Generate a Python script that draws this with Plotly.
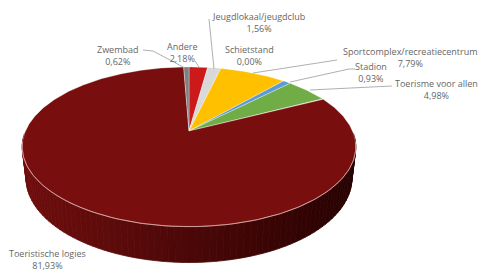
import numpy as np
import plotly.graph_objects as go

# ---- data (alphabetical order, as in the source sheet) ----
categories = ["Andere", "Jeugdlokaal/jeugdclub", "Schietstand",
              "Sportcomplex/recreatiecentrum", "Stadion", "Toerisme voor allen",
              "Toeristische logies", "Zwembad"]
values = [2.18, 1.56, 0.00, 7.79, 0.93, 4.98, 81.93, 0.62]
colors = ["#CC1A1A", "#D9D9D9", "#A5A5A5", "#FFC000", "#5B9BD5", "#70AD47",
          "#790E0E", "#7F7F7F"]

# ---- geometry of the 3D pie (perspective projection) ----
W, H = 480, 273
CX, CY, SCALE = 189, 131, 731
TH = np.radians(28)
S, C = np.sin(TH), np.cos(TH)
D = 4.47
HT = 0.22


def proj(phi_deg, r=1.0, Y=0.0):
    phi = np.radians(np.asarray(phi_deg, dtype=float))
    X = r * np.sin(phi)
    Z = r * np.cos(phi)
    depth = D + Z * C - Y * S
    u = X / depth
    v = (Z * S + Y * C) / depth
    return CX + SCALE * u, CY - SCALE * v


fig = go.Figure()

# side of the disc (front half), gradient strips
L = np.array([112, 14, 14])
R = np.array([40, 2, 2])
edges = np.linspace(92, 268, 89)
for a0, a1 in zip(edges[:-1], edges[1:]):
    xt, yt = proj([a0, a1])
    xb, yb = proj([a1, a0], Y=-HT)
    xs = list(xt) + list(xb) + [xt[0]]
    ys = list(yt) + list(yb) + [yt[0]]
    f = (np.mean(xt) - 22) / (356 - 22)
    f = min(max(f, 0), 1)
    col = L * (1 - f) + R * f
    cs = "rgb(%d,%d,%d)" % tuple(col)
    fig.add_trace(go.Scatter(x=xs, y=ys, mode="lines", fill="toself",
                             fillcolor=cs, line=dict(color=cs, width=0.8),
                             hoverinfo="skip", showlegend=False))

# top face slices
total = sum(values)
start = 0.0
for cat, val, col in zip(categories, values, colors):
    sweep = 360 * val / total
    if sweep > 0:
        angs = np.linspace(start, start + sweep, max(3, int(sweep * 2)))
        xa, ya = proj(angs)
        xs = [CX] + list(xa) + [CX]
        ys = [CY] + list(ya) + [CY]
        fig.add_trace(go.Scatter(x=xs, y=ys, mode="lines", fill="toself",
                                 fillcolor=col,
                                 line=dict(color="rgba(255,255,255,0.55)", width=0.6),
                                 name=cat, hoverinfo="name", showlegend=False))
    start += sweep

# highlight along front rim
angs = np.linspace(98, 262, 120)
xa, ya = proj(angs)
fig.add_trace(go.Scatter(x=xa, y=ya, mode="lines",
                         line=dict(color="rgba(240,190,190,0.8)", width=0.8),
                         hoverinfo="skip", showlegend=False))

# labels
label_pos = {
    "Andere": (182, 52),
    "Jeugdlokaal/jeugdclub": (258, 22),
    "Schietstand": (249, 55),
    "Sportcomplex/recreatiecentrum": (410, 57),
    "Stadion": (371, 72),
    "Toerisme voor allen": (436, 89),
    "Toeristische logies": (47, 259),
    "Zwembad": (118, 55),
}
for cat, val in zip(categories, values):
    x, y = label_pos[cat]
    txt = f"{cat}<br>{val:.2f}%".replace(".", ",")
    fig.add_annotation(x=x, y=y, xref="x", yref="y", text=txt, showarrow=False,
                       xanchor="center", yanchor="middle",
                       font=dict(family="Open Sans", size=9, color="#666666"))

# leader lines
leaders = [
    [(143, 50), (153, 51), (185, 68)],
    [(195, 61), (199, 67)],
    [(209, 19), (214, 69)],
    [(337, 60), (253, 73)],
    [(355, 69), (349, 69), (290, 82)],
    [(392, 86), (310, 90)],
]
for pts in leaders:
    path = "M " + " L ".join(f"{a},{b}" for a, b in pts)
    fig.add_shape(type="path", path=path, xref="x", yref="y",
                  line=dict(color="#A6A6A6", width=0.9))

fig.update_layout(
    width=W, height=H, margin=dict(l=0, r=0, t=0, b=0),
    paper_bgcolor="white", plot_bgcolor="white",
    xaxis=dict(range=[0, W], visible=False, fixedrange=True),
    yaxis=dict(range=[H, 0], visible=False, fixedrange=True),
    showlegend=False,
)

fig.write_html("out.html",
               post_script="document.body.style.margin='0px';document.body.style.overflow='hidden';",
               config={"displayModeBar": False})
